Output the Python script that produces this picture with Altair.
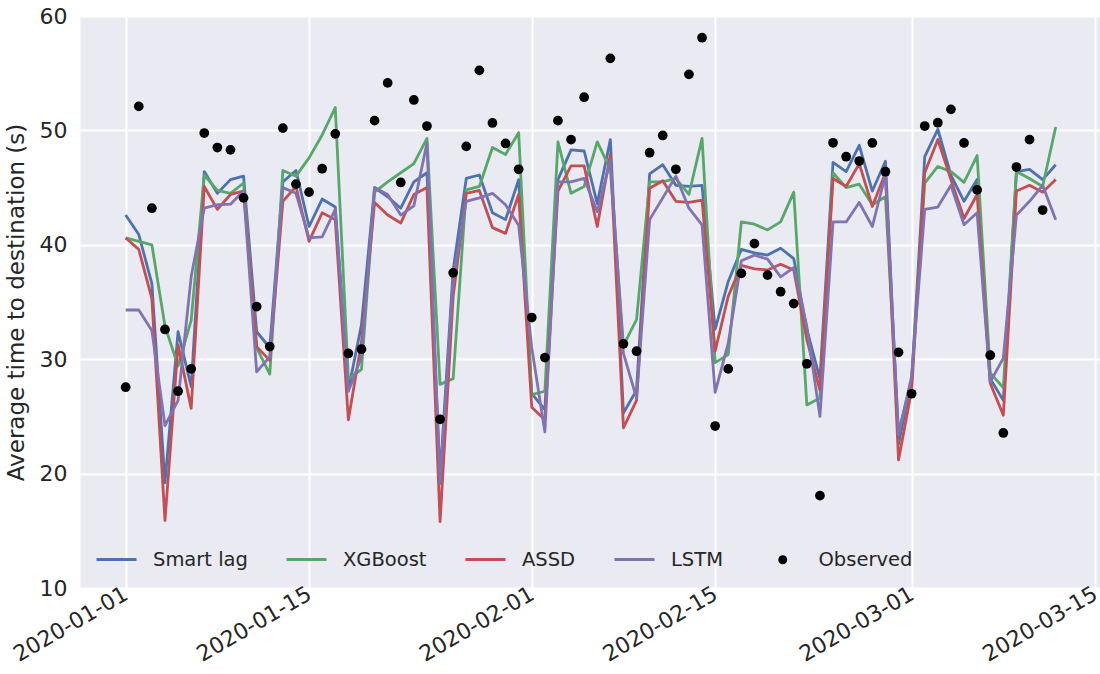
import altair as alt
import pandas as pd

# ---------------- data ----------------
dates = [d.strftime("%Y-%m-%d") for d in pd.date_range("2020-01-01", "2020-03-12", freq="D")]

smart_lag = [42.6, 40.9, 36.6, 19.2, 32.4, 27.6, 46.4, 44.5, 45.7, 46.0,
             32.4, 31.0, 45.5, 46.5, 41.6, 44.0, 43.3, 27.3, 33.0, 45.0,
             44.2, 43.2, 45.5, 46.3, 19.6, 37.8, 45.8, 46.1, 42.8, 42.2,
             45.7, 27.0, 25.6, 45.7, 48.3, 48.2, 43.6, 49.2, 25.3, 27.3,
             46.2, 47.0, 45.2, 45.1, 45.2, 32.6, 36.8, 39.6, 39.3, 39.1,
             39.7, 38.8, 32.6, 28.3, 47.2, 46.4, 48.7, 44.7, 47.3, 22.6,
             28.2, 47.7, 50.1, 46.1, 43.8, 45.7, 28.3, 26.4, 46.4, 46.6,
             45.7, 47.0]
xgboost = [40.6, 40.3, 40.0, 32.9, 29.4, 33.4, 46.1, 44.75, 44.5, 45.4,
           31.0, 28.7, 46.5, 46.0, 47.6, 49.6, 52.0, 28.3, 29.1, 44.6,
           45.5, 46.3, 47.1, 49.3, 27.8, 28.3, 44.8, 45.1, 48.5, 47.9,
           49.8, 26.9, 27.2, 49.0, 44.5, 45.1, 49.0, 46.6, 31.2, 33.45,
           45.5, 45.5, 45.8, 44.4, 49.3, 29.7, 30.4, 42.0, 41.8, 41.3,
           42.0, 44.6, 26.0, 26.6, 46.3, 45.0, 45.3, 43.5, 44.2, 23.6,
           28.2, 45.4, 46.85, 46.4, 45.45, 47.8, 28.8, 27.5, 46.4, 45.8,
           45.1, 50.3]
assd = [40.6, 39.6, 35.3, 15.9, 31.25, 25.7, 45.1, 43.1, 44.4, 44.7,
        31.1, 29.9, 43.8, 45.1, 40.3, 42.8, 42.2, 24.7, 31.5, 43.7,
        42.6, 41.9, 44.4, 45.0, 15.8, 35.5, 44.5, 44.75, 41.5, 41.0,
        44.4, 25.8, 24.7, 44.7, 46.9, 46.9, 41.6, 47.9, 24.0, 26.4,
        44.95, 45.6, 43.8, 43.7, 43.9, 30.7, 35.5, 38.2, 37.9, 37.8,
        38.3, 37.8, 31.7, 27.3, 45.8, 45.1, 47.1, 43.35, 46.3, 21.2,
        27.3, 46.3, 49.2, 45.7, 42.3, 44.4, 27.9, 25.1, 44.7, 45.2,
        44.6, 45.7]
lstm = [34.3, 34.3, 32.5, 24.2, 26.4, 37.2, 43.2, 43.5, 43.55, 44.7,
        28.9, 30.2, 45.0, 44.5, 40.6, 40.7, 43.1, 27.2, 30.2, 45.0,
        44.4, 42.6, 43.4, 48.9, 19.1, 37.0, 43.8, 44.1, 44.5, 43.5,
        41.7, 31.0, 23.65, 45.5, 45.5, 45.8, 42.9, 47.4, 30.5, 26.6,
        42.2, 44.1, 46.0, 43.2, 41.75, 27.1, 31.4, 38.6, 39.1, 38.75,
        37.2, 38.0, 32.85, 25.0, 42.0, 42.0, 43.7, 41.6, 46.1, 23.4,
        28.5, 43.1, 43.3, 45.2, 41.75, 42.8, 28.0, 30.1, 42.6, 43.8,
        45.2, 42.2]
observed = [27.55, 52.1, 43.2, 32.6, 27.2, 29.15, 49.77, 48.5, 48.3, 44.1,
            34.6, 31.1, 50.2, 45.3, 44.6, 46.65, 49.7, 30.5, 30.87, 50.85,
            54.15, 45.45, 52.66, 50.38, 24.75, 37.55, 48.6, 55.25, 50.65, 48.86,
            46.6, 33.64, 30.14, 50.85, 49.19, 52.9, None, 56.3, 31.34, 30.7,
            48.05, 49.56, 46.6, 54.9, 58.1, 24.16, 29.15, 37.5, 40.1, 37.35,
            35.9, 34.86, 29.6, 18.07, 48.92, 47.7, 47.32, 48.9, 46.39, 30.6,
            26.98, 50.38, 50.67, 51.84, 48.9, 44.8, 30.35, 23.55, 46.8, 49.19,
            43.04, None]

models = ["Smart lag", "XGBoost", "ASSD", "LSTM"]
model_colors = ["#4C72B0", "#55A868", "#C44E52", "#8172B2"]
series = [smart_lag, xgboost, assd, lstm]
tick_dates = ["2020-01-01", "2020-01-15", "2020-02-01", "2020-02-15", "2020-03-01", "2020-03-15"]
y_ticks = [10, 20, 30, 40, 50, 60]

# ---------------- tables ----------------
lines_df = pd.DataFrame(
    [{"date": d, "model": m, "value": v}
     for m, s in zip(models, series) for d, v in zip(dates, s)]
)
obs_df = pd.DataFrame({"date": dates, "value": observed, "kind": "Observed"}).dropna()

FONT = "DejaVu Sans"
TXT = "#262626"


def dt(s, h=0, mi=0):
    y, m, d = (int(p) for p in s.split("-"))
    return alt.DateTime(year=y, month=m, date=d, hours=h, minutes=mi, utc=True)


x_enc = alt.X(
    "date:T",
    scale=alt.Scale(type="utc", domain=[dt("2019-12-28", 12, 19), dt("2020-03-15", 9, 7)]),
    axis=alt.Axis(
        values=[dt(t) for t in tick_dates], format="%Y-%m-%d", labelAngle=-30,
        labelAlign="right", labelBaseline="top", labelPadding=-5, labelOffset=-5,
        title=None, labelFontSize=22,
    ),
)
y_enc = alt.Y(
    "value:Q",
    scale=alt.Scale(domain=[10, 60], nice=False, zero=False),
    axis=alt.Axis(values=y_ticks, title="Average time to destination (s)",
                  labelPadding=13, titlePadding=11, labelFontSize=22),
)

color_enc = alt.Color(
    "model:N",
    scale=alt.Scale(domain=models, range=model_colors),
    legend=alt.Legend(
        orient="none", legendX=15, legendY=522, direction="horizontal", columns=4,
        title=None, symbolType="stroke", symbolSize=1600, symbolStrokeWidth=2.8,
        labelFontSize=19.5, labelFont=FONT, labelColor=TXT, labelOffset=15,
        columnPadding=32, padding=0, labelLimit=400,
    ),
)

layers = []
for m in models:
    layers.append(
        alt.Chart(lines_df)
        .transform_filter(alt.datum.model == m)
        .mark_line(strokeWidth=2.8, strokeJoin="round")
        .encode(x=x_enc, y=y_enc, color=color_enc)
    )

points = (
    alt.Chart(obs_df)
    .mark_point(filled=True, size=95, opacity=1, color="black")
    .encode(
        x=x_enc,
        y=y_enc,
        shape=alt.Shape(
            "kind:N",
            scale=alt.Scale(domain=["Observed"], range=["circle"]),
            legend=alt.Legend(
                orient="none", legendX=693, legendY=534, title=None,
                symbolFillColor="black", symbolStrokeColor="black", symbolSize=80,
                labelFontSize=19.5, labelFont=FONT, labelColor=TXT, labelOffset=26,
                padding=0,
            ),
        ),
    )
)

chart = (
    alt.layer(*layers, points)
    .properties(
        width=1020, height=572,
        autosize=alt.AutoSizeParams(type="none"),
        padding={"left": 80, "top": 16, "right": 0, "bottom": 86},
        background="white",
    )
    .configure_view(fill="#EAEAF2", stroke="transparent")
    .configure_axis(
        grid=True, gridColor="white", gridWidth=2, domain=False, ticks=False,
        labelFont=FONT, labelColor=TXT,
        titleFont=FONT, titleFontSize=23, titleColor=TXT, titleFontWeight="normal",
    )
)

chart.save("out.html", embed_options={"renderer": "svg", "actions": False})
